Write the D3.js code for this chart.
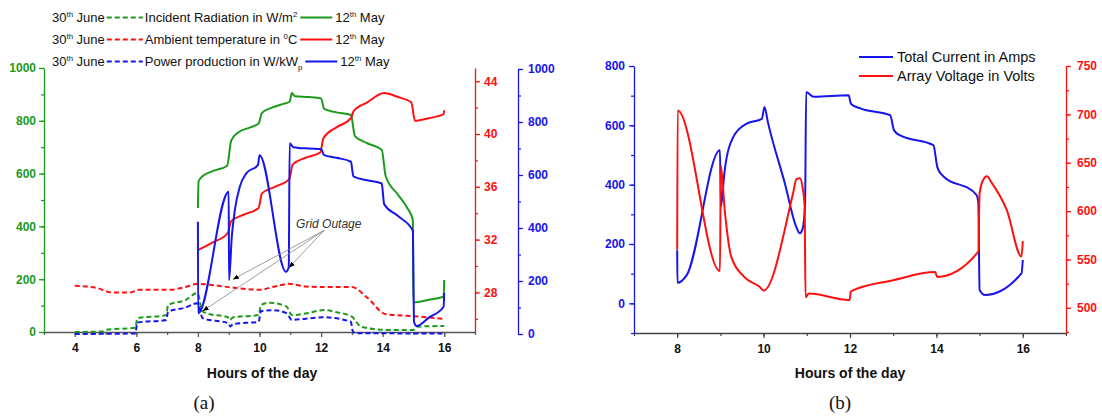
<!DOCTYPE html>
<html>
<head>
<meta charset="utf-8">
<script src="https://cdn.jsdelivr.net/npm/d3@7"></script>
<style>
  body { margin: 0; background: #fff; }
  svg { font-family: "Liberation Sans", Arial, sans-serif; }
</style>
</head>
<body>
<svg id="chart" width="1102" height="416"></svg>
<script>
// ---- panel (a): [hour, value] pairs ----
const radiationMay = [[8.0, 470], [8.02, 570], [8.15, 590], [8.5, 610], [8.95, 630], [9.08, 725], [9.3, 755],
  [9.7, 775], [9.97, 790], [10.08, 830], [10.4, 850], [10.8, 865], [10.98, 872], [11.05, 905], [11.15, 893],
  [11.6, 890], [12.0, 885], [12.1, 845], [12.5, 832], [12.97, 822], [13.1, 742], [13.5, 715], [13.97, 690],
  [14.1, 590], [14.5, 520], [14.8, 470], [14.98, 425], [15.0, 112], [15.5, 122], [15.98, 134], [16.0, 197]];
const radiationJune = [[4.0, 0], [4.9, 2], [5.0, 8], [5.97, 16], [6.03, 52], [6.97, 64], [7.03, 102], [7.6, 121],
  [7.97, 147], [8.02, 140], [8.12, 82], [8.3, 70], [8.97, 56], [9.03, 45], [9.15, 56], [9.97, 64], [10.05, 102],
  [10.3, 111], [10.88, 96], [11.05, 64], [11.5, 70], [12.1, 83], [12.5, 75], [13.0, 58], [13.3, 20], [14.1, 8],
  [15.0, 8], [15.1, 20], [16.0, 23]];
const tempMay = [[8.0, 31.2], [8.5, 31.8], [8.97, 32.5], [9.08, 33.4], [9.5, 33.9], [9.97, 34.4], [10.08, 35.5],
  [10.5, 36.0], [10.97, 36.6], [11.08, 37.7], [11.5, 38.2], [11.97, 38.6], [12.08, 39.7], [12.5, 40.5],
  [12.97, 41.2], [13.05, 41.7], [13.5, 42.4], [14.05, 43.1], [14.5, 42.8], [14.93, 42.4], [15.05, 41.0],
  [15.5, 41.2], [15.98, 41.5], [16.0, 41.8]];
const tempJune = [[4.0, 28.5], [4.7, 28.35], [5.2, 28.0], [5.8, 28.0], [6.1, 28.2], [7.1, 28.2], [7.5, 28.35],
  [8.0, 28.65], [8.5, 28.55], [9.0, 28.4], [10.0, 28.2], [10.5, 28.45], [10.95, 28.65], [11.5, 28.45],
  [12.07, 28.4], [13.0, 28.4], [13.5, 27.6], [14.1, 26.35], [15.0, 26.2], [15.97, 26.0]];
const powerMay = [[8.0, 424], [8.005, 78], [9.0, 537], [9.01, 204], [9.1, 367], [9.2, 468], [9.36, 556],
  [9.57, 606], [9.95, 638], [10.0, 675], [10.86, 235], [10.95, 252], [10.98, 720], [11.1, 705], [11.6, 700],
  [12.0, 698], [12.1, 675], [12.5, 665], [12.97, 650], [13.05, 595], [13.5, 580], [13.97, 568], [14.05, 490],
  [14.5, 445], [14.98, 390], [15.02, 45], [15.1, 30], [15.5, 62], [15.98, 103], [16.0, 156]];
const powerJune = [[4.0, 0], [5.97, 2], [6.03, 43], [6.97, 53], [7.03, 84], [7.6, 100], [7.97, 116], [8.02, 110],
  [8.15, 60], [9.0, 40], [9.05, 28], [9.15, 38], [9.97, 46], [10.05, 87], [10.45, 90], [10.88, 78], [11.05, 53],
  [11.5, 58], [12.07, 63], [12.97, 46], [13.02, 15], [13.1, 3], [16.0, 2]];

// grid outage callout: label on radiation scale, targets on power scale
const outageLabel = [12.25, 405];
const outageFrom = [12.1, 385];
const outageTargets = [[8.17, 88], [9.15, 207], [10.97, 252]];

// ---- panel (b) ----
const currentAmps = [[8.0, 179], [8.005, 69], [8.22, 95], [8.99, 516], [9.01, 325], [9.1, 449], [9.3, 561],
  [9.61, 606], [9.96, 622], [10.02, 662], [10.1, 610], [10.5, 400], [10.75, 260], [10.84, 236], [10.9, 250],
  [10.96, 330], [10.985, 712], [11.16, 696], [11.97, 701], [12.02, 673], [12.24, 657], [12.93, 634],
  [13.02, 583], [13.15, 567], [13.93, 533], [14.02, 460], [14.1, 437], [14.93, 365], [14.97, 340], [15.0, 45],
  [15.13, 28], [15.97, 101], [16.0, 146]];
const arrayVolts = [[8.0, 560], [8.01, 704], [8.99, 538], [9.01, 647], [9.1, 601], [9.25, 553], [9.55, 532],
  [9.9, 522], [10.0, 518], [10.68, 618], [10.76, 633], [10.84, 634], [10.9, 625], [10.95, 605], [10.97, 511],
  [11.05, 514.8], [11.85, 508.6], [11.99, 508], [12.02, 517], [13.0, 528.6], [13.97, 537], [14.02, 532],
  [14.97, 558], [15.0, 618], [15.08, 632], [15.17, 636], [15.27, 630], [15.63, 601], [15.97, 553], [16.0, 569]];

// ticks
const hourTicksA = [4, 6, 8, 10, 12, 14, 16];
const hourTicksB = [8, 10, 12, 14, 16];
const radTicks = [0, 200, 400, 600, 800, 1000];
const tempTicks = [28, 32, 36, 40, 44];
const curTicks = [0, 200, 400, 600, 800];
const voltTicks = [500, 550, 600, 650, 700, 750];

const GREEN = '#1c9a1c', RED = '#ff1010', BLUE = '#1515ee';

const svg = d3.select('#chart');

// scales
const xA = d3.scaleLinear().domain([3, 17]).range([44, 475]);
const yRad = d3.scaleLinear().domain([0, 1000]).range([332, 68]);
const yTemp = d3.scaleLinear().domain([25, 45]).range([332, 68]);
const yPow = d3.scaleLinear().domain([0, 1000]).range([334, 69]);

const xB = d3.scaleLinear().domain([7, 17]).range([634, 1066]);
const yCur = d3.scaleLinear().domain([-100, 800]).range([333, 66]);
const yVolt = d3.scaleLinear().domain([474, 750]).range([333, 66]);

// draws a major + minor axis pair
function drawAxis(axisFn, scale, pos, major, minor, color, transform) {
  const g = svg.append('g').attr('transform', transform).attr('color', color)
    .style('font-family', '"Liberation Sans", Arial, sans-serif').style('font-weight', 'bold');
  g.call(axisFn(scale).tickValues(minor).tickSize(3).tickFormat(''))
    .select('.domain').remove();
  g.append('g').call(axisFn(scale).tickValues(major).tickSize(5).tickSizeOuter(0)
      .tickPadding(pos).tickFormat(d3.format('d')))
    .attr('font-size', 12);
  g.selectAll('.domain').attr('stroke-width', 1.3);
  g.selectAll('.tick line').attr('stroke-width', 1.2);
  return g;
}

// panel (a) axes
const gxA = drawAxis(d3.axisBottom, xA, 6, hourTicksA, d3.range(3, 18), '#555', 'translate(0,332)');
gxA.selectAll('text').attr('fill', '#111');
drawAxis(d3.axisLeft, yRad, 3, radTicks, d3.range(0, 1001, 100), GREEN, 'translate(44,0)');
drawAxis(d3.axisRight, yTemp, 4, tempTicks, d3.range(26, 45, 2), RED, 'translate(475,0)');
drawAxis(d3.axisRight, yPow, 5, radTicks, d3.range(0, 1001, 100), BLUE, 'translate(518,0)');

// panel (b) axes
const gxB = drawAxis(d3.axisBottom, xB, 6, hourTicksB, d3.range(7, 18), '#444', 'translate(0,333)');
gxB.selectAll('text').attr('fill', '#111');
drawAxis(d3.axisLeft, yCur, 4, curTicks, d3.range(-100, 801, 100), BLUE, 'translate(634,0)');
drawAxis(d3.axisRight, yVolt, 6, voltTicks, d3.range(475, 751, 25), RED, 'translate(1066,0)');

// lines
function drawLine(data, x, y, color, dashed) {
  const line = d3.line().x(d => x(d[0])).y(d => y(d[1])).curve(d3.curveMonotoneX);
  svg.append('path').datum(data)
    .attr('d', line)
    .attr('fill', 'none')
    .attr('stroke', color)
    .attr('stroke-width', 2)
    .attr('stroke-dasharray', dashed ? '5,3' : null);
}

drawLine(tempJune, xA, yTemp, RED, true);
drawLine(radiationJune, xA, yRad, GREEN, true);
drawLine(powerJune, xA, yPow, BLUE, true);
drawLine(radiationMay, xA, yRad, GREEN, false);
drawLine(tempMay, xA, yTemp, RED, false);
drawLine(powerMay, xA, yPow, BLUE, false);

drawLine(currentAmps, xB, yCur, BLUE, false);
drawLine(arrayVolts, xB, yVolt, RED, false);

// grid outage callout
svg.append('defs').append('marker')
  .attr('id', 'arrow').attr('viewBox', '0 0 10 10').attr('refX', 9).attr('refY', 5)
  .attr('markerWidth', 6).attr('markerHeight', 6).attr('markerUnits', 'userSpaceOnUse')
  .attr('orient', 'auto')
  .append('path').attr('d', 'M0,1L10,5L0,9Z').attr('fill', '#000');

outageTargets.forEach(t => {
  svg.append('line')
    .attr('x1', xA(outageFrom[0])).attr('y1', yRad(outageFrom[1]))
    .attr('x2', xA(t[0])).attr('y2', yPow(t[1]))
    .attr('stroke', '#888').attr('stroke-width', 0.8)
    .attr('marker-end', 'url(#arrow)');
});
svg.append('text')
  .attr('x', xA(outageLabel[0])).attr('y', yRad(outageLabel[1]))
  .attr('text-anchor', 'middle').attr('dominant-baseline', 'middle')
  .attr('font-size', 12).attr('font-style', 'italic').attr('fill', '#333')
  .text('Grid Outage');

// rich text helper for super/subscripts
function richText(x, y, parts, size) {
  const t = svg.append('text').attr('x', x).attr('y', y).attr('font-size', size).attr('fill', '#111');
  let shift = 0;
  parts.forEach(p => {
    const target = p.sup ? -size * 0.4 : p.sub ? size * 0.3 : 0;
    t.append('tspan')
      .attr('dy', target - shift)
      .attr('font-size', (p.sup || p.sub) ? size * 0.6 : size)
      .text(p.t);
    shift = target;
  });
  return t;
}

// legend (a)
const juneLabel = [{ t: '30' }, { t: 'th', sup: true }, { t: ' June' }];
const mayLabel = [{ t: '12' }, { t: 'th', sup: true }, { t: ' May' }];
const legendA = [
  { color: GREEN, y: 22, label: [{ t: 'Incident Radiation in W/m' }, { t: '2', sup: true }] },
  { color: RED, y: 44, label: [{ t: 'Ambient temperature in ' }, { t: '0', sup: true }, { t: 'C' }] },
  { color: BLUE, y: 66, label: [{ t: 'Power production in W/kW' }, { t: 'p', sub: true }] }
];
legendA.forEach(r => {
  const t1 = richText(52, r.y, juneLabel, 13);
  let x = 52 + t1.node().getComputedTextLength() + 2;
  svg.append('line').attr('x1', x).attr('x2', x + 36).attr('y1', r.y - 4.5).attr('y2', r.y - 4.5)
    .attr('stroke', r.color).attr('stroke-width', 2).attr('stroke-dasharray', '5,3');
  x += 38;
  const t2 = richText(x, r.y, r.label, 13);
  x += t2.node().getComputedTextLength() + 3;
  svg.append('line').attr('x1', x).attr('x2', x + 32).attr('y1', r.y - 4.5).attr('y2', r.y - 4.5)
    .attr('stroke', r.color).attr('stroke-width', 2);
  richText(x + 35, r.y, mayLabel, 13);
});

// legend (b)
const legendB = [
  { color: BLUE, y: 62, label: 'Total Current in Amps' },
  { color: RED, y: 81, label: 'Array Voltage in Volts' }
];
legendB.forEach(r => {
  svg.append('line').attr('x1', 859).attr('x2', 893).attr('y1', r.y - 5).attr('y2', r.y - 5)
    .attr('stroke', r.color).attr('stroke-width', 2);
  svg.append('text').attr('x', 897).attr('y', r.y).attr('font-size', 14.5).attr('fill', '#111').text(r.label);
});

// axis titles and panel labels
[[262, 'Hours of the day'], [850, 'Hours of the day']].forEach(d => {
  svg.append('text').attr('x', d[0]).attr('y', 378).attr('text-anchor', 'middle')
    .attr('font-size', 14).attr('font-weight', 'bold').attr('fill', '#111').text(d[1]);
});
[[204, '(a)'], [840, '(b)']].forEach(d => {
  svg.append('text').attr('x', d[0]).attr('y', 409).attr('text-anchor', 'middle')
    .attr('font-family', '"Liberation Serif", "Times New Roman", serif')
    .attr('font-size', 19).attr('fill', '#111').text(d[1]);
});
</script>
</body>
</html>
